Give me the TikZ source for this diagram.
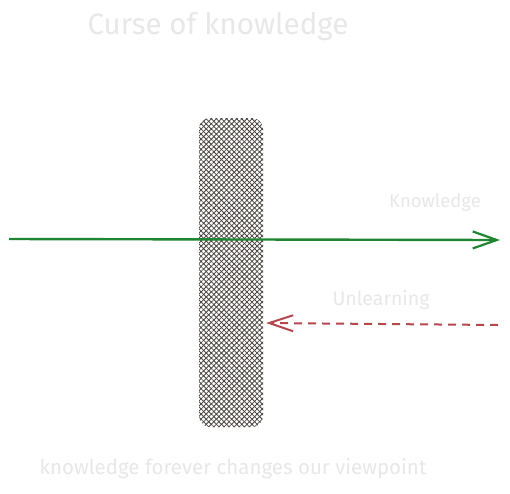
\documentclass[tikz,border=0pt]{standalone}
\usepackage{fontspec}
\setmainfont{Fira Sans}
\usetikzlibrary{arrows.meta,patterns.meta}
\definecolor{txtgray}{HTML}{E8E8E8}
\definecolor{kgreen}{HTML}{1F8532}
\definecolor{ured}{HTML}{B5484D}
\definecolor{hatch}{HTML}{48433F}
\tikzset{
  lbl/.style={text=txtgray, inner sep=0pt, font=\fontsize{#1}{#1}\selectfont},
  barrier/.style={draw=none, rounded corners=11pt, minimum width=64pt, minimum height=309pt,
    pattern={Lines[angle=45,distance=3.6pt,line width=0.8pt]}, pattern color=hatch,
    postaction={pattern={Lines[angle=-45,distance=3.6pt,line width=0.8pt]}, pattern color=hatch}},
  knowarrow/.style={draw=kgreen, line width=2.4pt, -{Straight Barb[length=24pt,width=17pt,line width=2.2pt]}},
  unarrow/.style={draw=ured, line width=2pt, dash pattern=on 8pt off 6pt, -{Straight Barb[length=24pt,width=16pt,line width=2pt]}}
}
\begin{document}
\begin{tikzpicture}[x=1pt,y=-1pt]
\useasboundingbox[fill=white] (0,0) rectangle (510,493);
\node[lbl=29.5] (title) at (218,27) {Curse of knowledge};
\node[barrier] (bar) at (231,272.5) {};
\coordinate (ks) at (9,239);
\coordinate (ke) at (500,240);
\draw[knowarrow] (ks) -- (ke);
\node[lbl=18.5] (klab) at (435,203) {Knowledge};
\coordinate (us) at (498,325);
\coordinate (ue) at (266,323);
\draw[unarrow] (us) -- (ue);
\node[lbl=19.5] (ulab) at (381,300) {Unlearning};
\node[lbl=20.5] (foot) at (233,469) {knowledge forever changes our viewpoint};
\end{tikzpicture}
\end{document}
